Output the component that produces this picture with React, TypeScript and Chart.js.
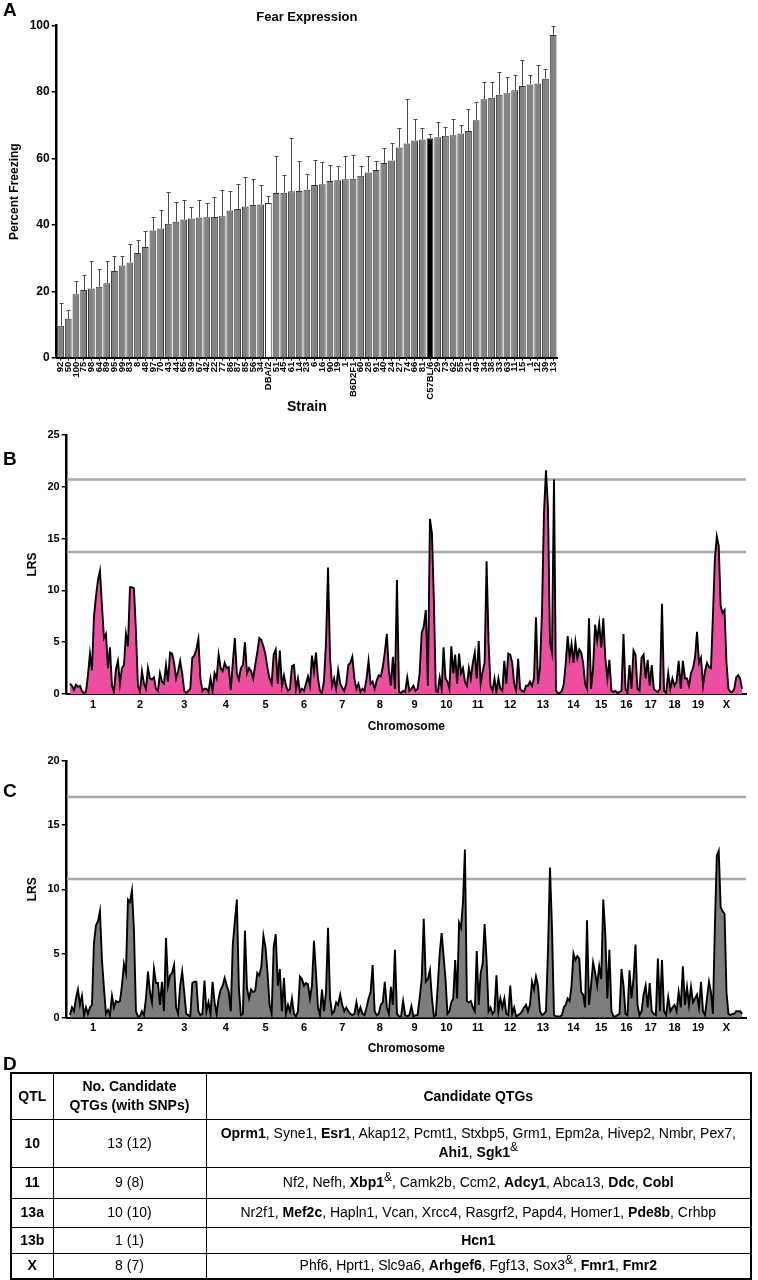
import React, { useEffect, useRef } from 'react';
import { Chart, registerables } from 'chart.js';
Chart.register(...registerables);

// ---------- Panel A data ----------
const strainLabels = ['92','50','100','75','98','64','89','95','99','83','8','48','97','70','43','44','65','39','67','42','22','77','86','87','85','56','34','DBA/2','51','45','61','14','23','6','16','90','19','1','B6D2F1','60','28','91','40','24','27','74','66','81','C57BL/6','29','73','62','55','21','49','34','38','33','63','11','15','1','12','39','13'];
const freezing = [9.6,11.7,19.1,20.4,20.8,21.4,22.4,26.1,27.8,28.7,31.5,33.3,38.3,38.9,40.3,40.9,41.6,41.9,42.2,42.3,42.4,42.6,44.3,44.8,45.5,46.0,46.1,46.6,49.6,49.7,50.1,50.2,50.6,52.0,52.2,53.2,53.4,53.7,53.9,54.8,55.8,56.5,58.6,59.4,63.3,64.5,65.4,65.7,66.1,66.4,66.8,67.0,67.5,68.3,71.5,77.8,78.3,79.2,79.6,80.5,81.8,82.3,82.6,84.0,97.2];
const freezingSem = [7.0,2.7,4.0,4.4,8.2,5.3,6.7,4.4,2.7,5.5,4.0,4.9,4.0,5.6,9.7,6.1,5.9,3.5,5.4,4.3,6.0,8.0,5.9,7.4,8.8,7.8,5.9,2.0,11.0,5.4,16.1,8.9,4.6,7.4,6.7,4.7,4.2,7.1,7.2,3.0,4.8,2.6,4.6,5.3,5.8,13.5,6.5,3.5,1.4,4.7,2.7,5.0,2.5,6.7,5.5,5.2,4.7,6.8,4.9,4.5,7.7,2.7,5.4,3.0,2.8];

// ---------- Panels B/C data ----------
const chromNames = ['1','2','3','4','5','6','7','8','9','10','11','12','13','14','15','16','17','18','19','X'];
const chromLengths = [192,184,170,162,156,152,154,146,132,124,126,134,128,116,106,96,98,92,96,132];
const genomeMin = -9;
const genomeMax = 2708;

// LRS, fear expression (panel B), markers evenly spaced along each chromosome
const lrsExpression = [
  [1.0,0.8,0.4,0.9,0.7,0.8,0.3,0.1,0.2,1.8,3.9,2.3,7.5,9.4,11.0,11.9,8.6,5.4,5.8,2.5,4.5,0.8,0.2,2.4],
  [3.2,1.0,2.5,2.8,5.8,4.6,10.3,10.3,10.2,6.0,0.8,0.2,2.2,1.0,0.5,2.5,1.5,1.4,1.6,0.5,0.3,2.0,1.2],
  [1.0,2.8,1.2,4.0,3.9,3.0,1.5,2.2,3.2,2.0,0.3,0.1,0.3,0.5,3.5,3.7,4.3,5.3,1.5,0.3,0.5],
  [0.5,0.2,1.5,0.3,2.0,1.5,3.8,2.5,2.2,3.0,2.5,2.6,0.4,3.0,5.4,2.0,1.4,2.5,2.8,5.0],
  [2.0,2.5,2.2,1.5,2.8,4.0,5.4,5.2,4.6,3.8,2.5,1.5,1.0,3.8,4.3,1.0,4.2,0.8,1.8],
  [0.8,0.3,0.5,2.7,2.8,0.5,1.5,0.2,0.5,0.3,1.0,1.7,0.8,3.7,2.2,4.0,1.5,0.3,0.1],
  [1.3,5.0,12.2,3.5,0.8,1.5,0.5,2.3,1.0,0.6,0.3,1.0,2.8,3.0,3.6,1.5,0.5,1.0,0.2],
  [0.5,0.3,1.5,3.2,1.0,1.2,0.5,1.3,1.8,1.7,2.6,4.0,5.8,2.3,0.8,3.6,0.5,11.0],
  [0.2,0.1,0.3,0.2,1.6,0.3,0.5,0.8,0.3,0.5,2.0,5.9,6.5,8.1,0.8,16.9],
  [15.5,9.0,0.3,0.2,1.6,0.5,4.5,1.5,1.2,0.5,4.6,2.0,3.8,1.0,3.9,2.0],
  [2.5,1.2,0.8,2.5,1.5,3.0,4.0,1.5,5.1,1.0,2.2,3.0,12.8,5.0,0.8,0.3],
  [1.5,0.2,1.5,0.5,0.3,3.2,1.0,3.9,3.8,3.0,1.0,0.3,3.4,0.5,0.3,0.2,0.8],
  [0.8,1.2,0.8,1.5,7.4,1.0,2.5,8.0,17.5,21.6,18.0,5.0,4.0,20.7,0.3,0.1],
  [0.1,0.3,1.0,3.0,5.6,3.5,4.8,3.0,5.0,3.5,4.3,4.0,3.0,1.0,0.5],
  [7.3,0.5,2.5,6.7,5.2,6.8,4.5,7.3,3.5,1.5,3.3,0.3,0.2],
  [0.3,0.1,0.2,0.3,5.8,0.5,0.1,2.8,0.5,4.2,3.8,0.5],
  [0.3,3.5,3.8,1.5,3.3,0.8,2.8,0.5,0.3,0.2,0.5,8.7],
  [0.3,0.1,2.0,0.5,1.5,0.8,1.2,3.2,0.5,3.2,1.5],
  [1.5,0.8,2.0,2.5,3.5,6.0,3.0,3.5,0.8,2.2,3.0,2.6],
  [2.5,7.5,13.0,15.2,14.3,8.5,7.8,8.1,3.0,0.5,0.2,0.2,0.5,1.6,1.8,1.5,0.5],
];
const thresholdsExpression = [13.7, 20.7];

// LRS, panel C
const lrsPanelC = [
  [0.2,0.8,0.5,1.5,2.2,1.0,1.7,0.2,0.8,0.3,0.8,1.0,5.8,7.2,7.5,8.3,4.5,2.3,0.3,0.6,0.2,1.7,0.8,1.3],
  [1.2,1.3,2.5,4.2,3.5,9.2,9.0,9.9,6.8,0.5,0.1,0.1,0.5,0.2,1.5,3.6,2.0,1.2,3.8,2.7,2.7,1.0,2.8],
  [0.5,6.2,2.5,3.3,3.5,4.1,0.8,0.3,2.5,3.6,2.0,0.3,0.2,0.1,2.7,2.8,2.8,0.5,0.2,0.3,2.9],
  [0.5,1.2,0.3,2.8,1.2,0.3,1.5,2.2,2.5,3.1,2.5,2.0,0.5,5.7,7.5,9.2,2.3,0.2,0.3,6.8],
  [2.3,1.5,2.2,2.0,2.1,3.5,3.3,4.0,6.4,5.5,3.5,1.0,0.3,5.5,6.5,2.5,3.8,0.5,3.1],
  [0.3,1.0,0.5,1.5,0.3,0.1,0.5,3.2,3.0,2.5,2.7,2.6,1.5,2.5,6.0,3.5,0.8,0.2,2.2],
  [0.5,2.0,7.0,1.5,0.3,0.5,1.2,1.0,1.8,1.0,0.5,0.8,0.5,0.3,0.2,0.3,1.2,0.3,0.8],
  [0.3,0.2,0.8,1.5,2.0,4.1,0.5,0.2,0.3,1.0,1.2,2.8,0.8,0.3,2.4,1.0,5.3,0.3],
  [0.1,0.1,1.3,0.2,0.1,0.2,0.9,0.1,0.2,0.2,1.5,3.0,7.7,2.8,3.0,3.7],
  [1.5,0.1,0.2,2.5,5.0,6.6,4.8,3.0,0.3,0.5,1.2,1.5,4.5,1.5,7.4,7.0],
  [9.0,13.1,1.3,1.2,1.3,0.8,0.5,5.2,1.0,3.5,4.2,7.3,4.5,0.5,0.8,0.3],
  [0.5,3.3,0.5,1.5,0.8,1.5,0.3,0.2,2.5,0.3,0.8,0.1,0.2,0.3,0.5,0.8,1.0],
  [0.5,1.0,2.8,2.2,3.2,2.5,0.5,0.2,0.3,0.5,5.3,11.7,7.0,0.2,0.1,0.1],
  [0.1,0.2,0.8,1.0,1.5,1.3,2.5,5.0,4.5,4.8,4.6,2.0,1.8,0.8,7.6],
  [1.0,2.5,4.3,3.5,2.5,4.0,3.0,9.2,6.5,1.5,5.3,0.5,0.1],
  [0.1,0.2,0.3,3.8,2.5,0.3,0.2,3.7,1.5,3.0,5.7,1.0],
  [0.2,0.5,1.8,2.5,0.8,2.7,0.5,0.3,0.2,4.6,0.5,4.5],
  [0.5,0.2,1.6,0.5,0.8,1.0,0.5,2.0,0.8,4.0,1.0],
  [2.4,1.0,2.4,1.2,1.5,1.8,0.8,2.8,0.5,0.2,1.5,2.8],
  [2.0,0.3,7.0,12.6,13.0,8.6,8.3,8.1,2.0,0.3,0.2,0.3,0.3,0.5,0.5,0.5,0.3],
];
const thresholdsPanelC = [10.8, 17.2];

// ---------- Panel D data ----------
const qtlNames = ['10', '11', '13a', '13b', 'X'];
const qtgCounts = ['13 (12)', '9 (8)', '10 (10)', '1 (1)', '8 (7)'];
// "*" = bold gene, trailing "&" = superscript ampersand, "|" = line break
const qtgGenes = [
  ['*Oprm1','Syne1','*Esr1','Akap12','Pcmt1','Stxbp5','Grm1','Epm2a','Hivep2','Nmbr','Pex7','|','*Ahi1','*Sgk1&'],
  ['Nf2','Nefh','*Xbp1&','Camk2b','Ccm2','*Adcy1','Abca13','*Ddc','*Cobl'],
  ['Nr2f1','*Mef2c','Hapln1','Vcan','Xrcc4','Rasgrf2','Papd4','Homer1','*Pde8b','Crhbp'],
  ['*Hcn1'],
  ['Phf6','Hprt1','Slc9a6','*Arhgef6','Fgf13','Sox3&','*Fmr1','*Fmr2'],
];
const rowHeights = [46, 48, 31, 29, 26, 26];

const FONT = '"Liberation Sans", Arial, Helvetica, sans-serif';
Chart.defaults.font.family = FONT;
Chart.defaults.color = '#000';

const chromStarts: number[] = [];
chromLengths.reduce((acc, l) => { chromStarts.push(acc); return acc + l; }, 0);
const chromCenters = chromLengths.map((l, i) => chromStarts[i] + l / 2);

function genomePoints(lrs: number[][]) {
  const pts: { x: number; y: number }[] = [];
  lrs.forEach((vals, c) => {
    const len = chromLengths[c];
    vals.forEach((v, j) => pts.push({ x: chromStarts[c] + ((j + 0.5) * len) / vals.length, y: v }));
  });
  return pts;
}

const errorBarPlugin = {
  id: 'errorBars',
  afterDatasetsDraw(chart: any) {
    const meta = chart.getDatasetMeta(0);
    const ys = chart.scales.y;
    const ctx = chart.ctx;
    ctx.save();
    ctx.strokeStyle = '#4a4a4a';
    ctx.lineWidth = 1;
    meta.data.forEach((bar: any, i: number) => {
      const x = Math.round(bar.x) + 0.5;
      const y0 = ys.getPixelForValue(freezing[i]);
      const y1 = Math.round(ys.getPixelForValue(freezing[i] + freezingSem[i])) + 0.5;
      ctx.beginPath();
      ctx.moveTo(x, y0);
      ctx.lineTo(x, y1);
      ctx.moveTo(x - 2, y1);
      ctx.lineTo(x + 2, y1);
      ctx.stroke();
    });
    ctx.restore();
  },
};

function BarPanel() {
  const ref = useRef<HTMLCanvasElement>(null);
  useEffect(() => {
    const chart = new Chart(ref.current as HTMLCanvasElement, {
      type: 'bar',
      data: {
        labels: strainLabels,
        datasets: [{
          data: freezing,
          backgroundColor: strainLabels.map(s => (s === 'DBA/2' ? '#ffffff' : s === 'C57BL/6' ? '#000000' : '#828282')),
          borderColor: '#333333',
          borderWidth: 1,
          barPercentage: 0.88,
          categoryPercentage: 1,
        }],
      },
      options: {
        animation: false,
        responsive: false,
        layout: { padding: { top: 0, right: 201, left: 0, bottom: 0 } },
        plugins: {
          legend: { display: false },
          tooltip: { enabled: false },
          title: {
            display: true, text: 'Fear Expression', fullSize: false,
            font: { size: 13, weight: 'bold' }, color: '#000', padding: { top: 10, bottom: 0 },
          },
        },
        scales: {
          x: {
            afterFit: (s: any) => { s.height = 62.3; },
            ticks: { autoSkip: false, minRotation: 90, maxRotation: 90, padding: 1, font: { size: 9.5, weight: 'bold' }, color: '#000' },
            grid: { drawOnChartArea: false, offset: false, tickLength: 3, color: '#000', lineWidth: 1 },
            border: { color: '#000', width: 2 },
            title: { display: true, text: 'Strain', font: { size: 14, weight: 'bold' }, color: '#000', padding: { top: 0, bottom: 4 } },
          },
          y: {
            min: 0, max: 100,
            afterFit: (s: any) => { s.width = 56.7; },
            ticks: { stepSize: 20, font: { size: 12, weight: 'bold' }, color: '#000', padding: 2 },
            grid: { drawOnChartArea: false, tickLength: 5, color: '#000', lineWidth: 1.5 },
            border: { color: '#000', width: 2.5 },
            title: { display: true, text: 'Percent Freezing', font: { size: 12, weight: 'bold' }, color: '#000', padding: { top: 7, bottom: 0 } },
          },
        },
      } as any,
      plugins: [errorBarPlugin],
    });
    return () => chart.destroy();
  }, []);
  return <canvas ref={ref} width={758} height={420} style={{ position: 'absolute', left: 0, top: 0, width: 758, height: 420 }} />;
}

function GenomePanel(props: { lrs: number[][]; fill: string; yMax: number; thresholds: number[]; top: number; height: number; xHeight: number }) {
  const ref = useRef<HTMLCanvasElement>(null);
  useEffect(() => {
    const { lrs, fill, yMax, thresholds, xHeight } = props;
    const chart = new Chart(ref.current as HTMLCanvasElement, {
      type: 'line',
      data: {
        datasets: [
          { data: genomePoints(lrs), borderColor: '#000', borderWidth: 1.9, backgroundColor: fill, fill: 'origin', pointRadius: 0, tension: 0, order: 0 },
          ...thresholds.map(t => ({
            data: [{ x: genomeMin, y: t }, { x: genomeMax, y: t }],
            borderColor: '#a9a9a9', borderWidth: 2.5, pointRadius: 0, fill: false, order: 1,
          })),
        ],
      },
      options: {
        animation: false,
        responsive: false,
        layout: { padding: { top: 10, right: 12, left: 0, bottom: 0 } },
        plugins: { legend: { display: false }, tooltip: { enabled: false } },
        scales: {
          x: {
            type: 'linear', min: genomeMin, max: genomeMax,
            afterFit: (s: any) => { s.height = xHeight; },
            afterBuildTicks: (s: any) => { s.ticks = chromCenters.map(v => ({ value: v })); },
            ticks: {
              autoSkip: false, maxRotation: 0, minRotation: 0, padding: 4,
              font: { size: 11, weight: 'bold' }, color: '#000',
              callback: (_v: any, i: number) => chromNames[i],
            },
            grid: { drawOnChartArea: false, drawTicks: false },
            border: { display: true, color: '#000', width: 2 },
            title: { display: true, text: 'Chromosome', font: { size: 12, weight: 'bold' }, color: '#000', padding: { top: 0, bottom: 6 } },
          },
          y: {
            min: 0, max: yMax,
            afterFit: (s: any) => { s.width = 66.7; },
            ticks: { stepSize: 5, font: { size: 11, weight: 'bold' }, color: '#000', padding: 2 },
            grid: { drawOnChartArea: false, tickLength: 5, color: '#000', lineWidth: 1.5 },
            border: { color: '#000', width: 2.5 },
            title: { display: true, text: 'LRS', font: { size: 12, weight: 'bold' }, color: '#000', padding: { top: 25, bottom: 0 } },
          },
        },
      } as any,
    });
    return () => chart.destroy();
  }, []);
  return <canvas ref={ref} width={758} height={props.height} style={{ position: 'absolute', left: 0, top: props.top, width: 758, height: props.height }} />;
}

function geneNodes(list: string[]) {
  const out: React.ReactNode[] = [];
  list.forEach((g, i) => {
    if (g === '|') { out.push(<br key={'br' + i} />); return; }
    const bold = g.startsWith('*');
    let name = bold ? g.slice(1) : g;
    const amp = name.endsWith('&');
    if (amp) name = name.slice(0, -1);
    const next = list[i + 1];
    const sep = i < list.length - 1 ? (next === '|' ? ',' : ', ') : '';
    out.push(
      <span key={i}>
        {bold ? <b>{name}</b> : name}
        {amp ? <sup style={{ fontSize: '0.85em', lineHeight: 0 }}>&amp;</sup> : null}
        {sep}
      </span>
    );
  });
  return out;
}

const letterStyle: React.CSSProperties = { position: 'absolute', left: 3, fontFamily: FONT, fontWeight: 'bold', fontSize: 19, lineHeight: '19px', color: '#000' };
const cell: React.CSSProperties = { border: '1px solid #000', padding: '0 4px', textAlign: 'center', verticalAlign: 'middle' };

export default function App() {
  return (
    <div style={{ position: 'absolute', left: 0, top: 0, width: 758, height: 1280, background: '#fff', overflow: 'hidden' }}>
      <BarPanel />
      <GenomePanel lrs={lrsExpression} fill="#ec4f9f" yMax={25} thresholds={thresholdsExpression} top={425} height={315} xHeight={46} />
      <GenomePanel lrs={lrsPanelC} fill="#7d7d7d" yMax={20} thresholds={thresholdsPanelC} top={751} height={311} xHeight={44.3} />
      <div style={{ ...letterStyle, top: 0 }}>A</div>
      <div style={{ ...letterStyle, top: 449 }}>B</div>
      <div style={{ ...letterStyle, top: 781 }}>C</div>
      <div style={{ ...letterStyle, top: 1054 }}>D</div>
      <table style={{ position: 'absolute', left: 10, top: 1072, width: 742, borderCollapse: 'collapse', border: '2px solid #000', fontFamily: '"Liberation Sans Narrow", "Liberation Sans", Arial, sans-serif', fontSize: 14, color: '#000', lineHeight: '19px' }}>
        <colgroup>
          <col style={{ width: 42 }} />
          <col style={{ width: 153 }} />
          <col />
        </colgroup>
        <tbody>
          <tr style={{ height: rowHeights[0] }}>
            <th style={cell}>QTL</th>
            <th style={cell}>No. Candidate<br />QTGs (with SNPs)</th>
            <th style={cell}>Candidate QTGs</th>
          </tr>
          {qtlNames.map((q, i) => (
            <tr key={q} style={{ height: rowHeights[i + 1] }}>
              <td style={{ ...cell, fontWeight: 'bold' }}>{q}</td>
              <td style={cell}>{qtgCounts[i]}</td>
              <td style={cell}>{geneNodes(qtgGenes[i])}</td>
            </tr>
          ))}
        </tbody>
      </table>
    </div>
  );
}
